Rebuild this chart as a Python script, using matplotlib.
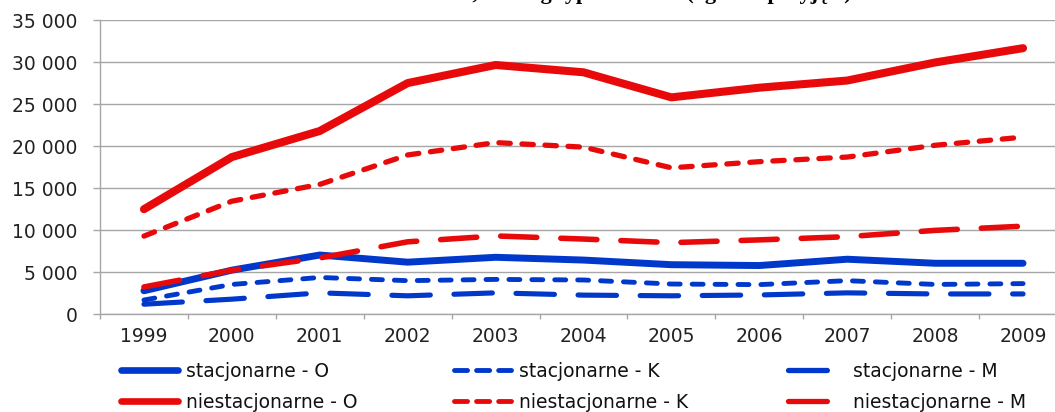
import matplotlib
matplotlib.use("Agg")
import matplotlib.pyplot as plt
from matplotlib.lines import Line2D
from matplotlib.ticker import FuncFormatter

years = ["1999", "2000", "2001", "2002", "2003", "2004", "2005", "2006", "2007", "2008", "2009"]

stac_O = [2800, 5250, 7050, 6200, 6780, 6450, 5900, 5800, 6550, 6070, 6070]
stac_K = [1700, 3550, 4380, 4000, 4150, 4080, 3600, 3530, 4000, 3550, 3650]
stac_M = [1200, 1800, 2550, 2200, 2550, 2280, 2200, 2300, 2550, 2420, 2420]
niest_O = [12500, 18700, 21800, 27500, 29650, 28780, 25800, 26950, 27800, 29950, 31650]
niest_K = [9300, 13450, 15450, 18950, 20420, 19880, 17420, 18150, 18700, 20100, 21070]
niest_M = [3250, 5250, 6700, 8620, 9320, 8950, 8520, 8850, 9230, 9980, 10480]

labels = ["stacjonarne - O", "stacjonarne - K", "stacjonarne - M",
          "niestacjonarne - O", "niestacjonarne - K", "niestacjonarne - M"]

BLUE = "#0038cc"
RED = "#e80a0a"
GRID = "#a6a6a6"

plt.rcParams["lines.scale_dashes"] = False
plt.rcParams["font.family"] = "DejaVu Sans"
FS = 13.5

fig = plt.figure(figsize=(10.55, 4.12), dpi=100)
# right edge of the plot area runs past the picture, like the original
ax = fig.add_axes([100 / 1055, 1 - 314.3 / 412, 967 / 1055, 294.3 / 412])

x = list(range(len(years)))
common = dict(solid_capstyle="round", dash_capstyle="round",
              solid_joinstyle="round", dash_joinstyle="round")

# short dash (K) and long dash (M) patterns in points
dash_K_b = (0, (7.9, 8.6))
dash_K_r = (0, (8.2, 8.4))
dash_M_b = (0, (27.7, 17.0))
dash_M_r = (0, (26.0, 17.3))

ax.plot(x, stac_O, color=BLUE, lw=5.0, **common)
ax.plot(x, stac_K, color=BLUE, lw=3.5, linestyle=dash_K_b, **common)
ax.plot(x, stac_M, color=BLUE, lw=3.7, linestyle=dash_M_b, **common)
ax.plot(x, niest_O, color=RED, lw=5.8, **common)
ax.plot(x, niest_K, color=RED, lw=3.8, linestyle=dash_K_r, **common)
ax.plot(x, niest_M, color=RED, lw=4.0, linestyle=dash_M_r, **common)

ax.set_xlim(-0.5, 10.5)
ax.set_ylim(0, 35000)
ax.set_yticks(range(0, 35001, 5000))
ax.yaxis.set_major_formatter(FuncFormatter(lambda v, p: "{:,}".format(int(v)).replace(",", " ")))
ax.set_xticks(x)
ax.set_xticklabels(years)
ax.set_xticks([i - 0.5 for i in range(len(years) + 1)], minor=True)
ax.tick_params(axis="x", which="major", length=0, pad=9.5, labelsize=FS, colors="#222222")
ax.tick_params(axis="x", which="minor", length=3.6, width=1, color=GRID)
ax.tick_params(axis="y", length=5, width=1, color=GRID, pad=11, labelsize=FS, labelcolor="#222222")

ax.grid(axis="y", color=GRID, lw=1.0)
ax.set_axisbelow(True)
for s in ["top", "right"]:
    ax.spines[s].set_visible(False)
for s in ["left", "bottom"]:
    ax.spines[s].set_color(GRID)
    ax.spines[s].set_linewidth(1.0)

# title cut off at the very top, only the descenders show
fig.text(852 / 1055, 1 + 1.5 / 412, "Studenci I roku, według typu studiów (ogółem przyjęci)",
         ha="right", va="baseline", fontsize=16, fontweight="bold", family="Liberation Serif")

# legend: three columns, each a small legend of its own
def proxy(color, lw, ls):
    return Line2D([], [], color=color, lw=lw, linestyle=ls, **common)

cols = [
    (121, [proxy(BLUE, 4.8, "-"), proxy(RED, 4.8, "-")], [labels[0], labels[3]]),
    (454, [proxy(BLUE, 3.5, (0, (9.4, 6.5))), proxy(RED, 3.5, (0, (9.4, 6.5)))], [labels[1], labels[4]]),
    (788, [proxy(BLUE, 3.8, (0, (28.0, 100))), proxy(RED, 3.8, (0, (28.0, 100)))], [labels[2], labels[5]]),
]
for xpx, hs, ls in cols:
    leg = fig.legend(hs, ls, loc="upper left", bbox_to_anchor=(xpx / 1055, (412 - 362) / 412),
                     frameon=False, borderpad=0, borderaxespad=0, handlelength=3.04,
                     handletextpad=0.42, labelspacing=0.64, fontsize=FS)
    for t in leg.get_texts():
        t.set_color("#111111")

fig.savefig("out.png", dpi=100)
